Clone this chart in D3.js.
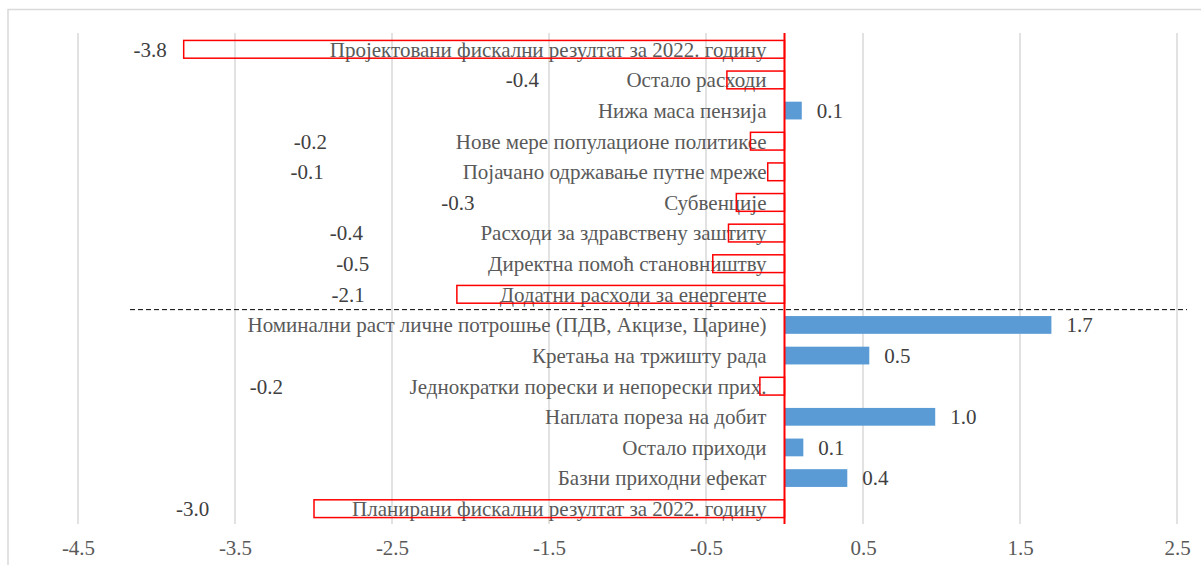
<!DOCTYPE html>
<html>
<head>
    <meta charset="UTF-8">
    <script src="https://d3js.org/d3.v7.min.js"></script>
</head>
<body style="margin:0">
    <svg width="1201" height="565"></svg>
    <script>
        // categories, top to bottom
        const categories = [
            "Пројектовани фискални резултат за 2022. годину",
            "Остало расходи",
            "Нижа маса пензија",
            "Нове мере популационе политикее",
            "Појачано одржавање путне мреже",
            "Субвенције",
            "Расходи за здравствену заштиту",
            "Директна помоћ становништву",
            "Додатни расходи за енергенте",
            "Номинални раст личне потрошње (ПДВ, Акцизе, Царине)",
            "Кретања на тржишту рада",
            "Једнократки порески и непорески прих.",
            "Наплата пореза на добит",
            "Остало приходи",
            "Базни приходни ефекат",
            "Планирани фискални резултат за 2022. годину"
        ];
        const values = [-3.83, -0.37, 0.11, -0.22, -0.11, -0.31, -0.36, -0.46, -2.09,
                        1.70, 0.54, -0.16, 0.96, 0.12, 0.40, -3.0];
        // where the negative value labels were dragged to (axis units), null = next to bar end
        const labelAt = [-4.04, -1.67, null, -3.02, -3.04, -2.08, -2.79, -2.75, -2.78,
                         null, null, -3.30, null, null, null, -3.77];
        const tickValues = [-4.5, -3.5, -2.5, -1.5, -0.5, 0.5, 1.5, 2.5];
        const splitAfter = "Додатни расходи за енергенте";

        const fmt = v => d3.format(".1f")(v).replace("−", "-");
        const font = '"Liberation Serif"';
        const fontSize = 21;

        const svg = d3.select("svg");
        const x = d3.scaleLinear().domain([-4.5, 2.5]).range([78, 1177]);
        const y = d3.scaleBand().domain(categories).range([34, 524]).paddingInner(0.42).paddingOuter(0.21);

        // outer chart border
        svg.append("rect")
            .attr("x", 8).attr("y", 9.5)
            .attr("width", 1220).attr("height", 600)
            .attr("fill", "none").attr("stroke", "#d9d9d9").attr("stroke-width", 1.5);

        // grid
        svg.append("g")
            .selectAll("line").data(tickValues).join("line")
            .attr("x1", d => x(d)).attr("x2", d => x(d))
            .attr("y1", 33).attr("y2", 524)
            .attr("stroke", "#d9d9d9").attr("stroke-width", 1.5);

        // x axis labels
        const xAxis = d3.axisBottom(x).tickValues(tickValues).tickSize(0).tickPadding(0)
            .tickFormat(fmt);
        const ax = svg.append("g")
            .attr("transform", "translate(0,540)").call(xAxis);
        ax.attr("font-family", font).attr("font-size", fontSize);
        ax.select(".domain").remove();
        ax.selectAll("text")
            .attr("dy", "0.71em")
            .attr("fill", "#595959");

        // category names, right aligned just left of zero
        svg.append("g").selectAll("text").data(categories).join("text")
            .attr("font-family", font)
            .attr("font-size", fontSize)
            .attr("fill", "#595959")
            .attr("x", x(0) - 18)
            .attr("y", d => y(d) + y.bandwidth() / 2)
            .attr("dy", "0.35em")
            .attr("text-anchor", "end")
            .text(d => d);

        // bars
        svg.append("g").selectAll("rect").data(categories).join("rect")
            .attr("x", (d, i) => x(Math.min(0, values[i])) + (values[i] < 0 ? 0.5 : 0))
            .attr("y", d => y(d))
            .attr("width", (d, i) => Math.abs(x(values[i]) - x(0)) - (values[i] < 0 ? 0.5 : 0))
            .attr("height", y.bandwidth())
            .attr("fill", (d, i) => values[i] < 0 ? "none" : "#5b9bd5")
            .attr("stroke", (d, i) => values[i] < 0 ? "#ff0000" : "none")
            .attr("stroke-width", 1.5);

        // value labels
        svg.append("g").selectAll("text").data(categories).join("text")
            .attr("font-family", font)
            .attr("font-size", fontSize)
            .attr("fill", "#404040")
            .attr("x", (d, i) => labelAt[i] !== null ? x(labelAt[i]) : x(values[i]) + 15)
            .attr("y", d => y(d) + y.bandwidth() / 2)
            .attr("dy", "0.35em")
            .attr("text-anchor", (d, i) => labelAt[i] !== null ? "middle" : "start")
            .text((d, i) => fmt(values[i]));

        // zero line
        svg.append("line")
            .attr("x1", x(0)).attr("x2", x(0))
            .attr("y1", 33).attr("y2", 524)
            .attr("stroke", "#ff0000").attr("stroke-width", 2);

        // dashed split between expenditure and revenue items
        const splitY = y(splitAfter) + y.step() - (y.step() - y.bandwidth()) / 2;
        svg.append("line")
            .attr("x1", 130).attr("x2", 1187)
            .attr("y1", splitY).attr("y2", splitY)
            .attr("stroke", "#000").attr("stroke-width", 1)
            .attr("stroke-dasharray", "5,3");
    </script>
</body>
</html>
